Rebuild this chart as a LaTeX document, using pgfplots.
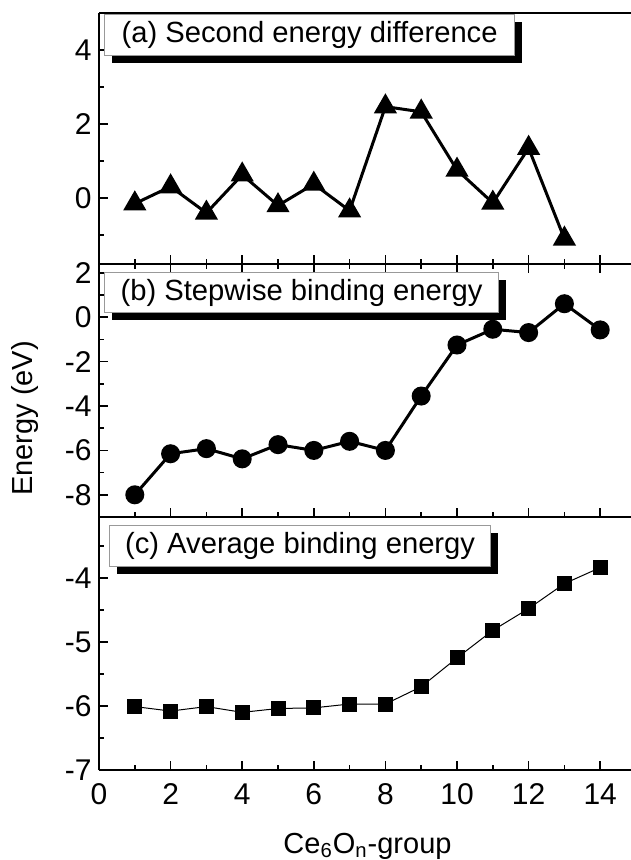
\documentclass[border=0pt]{standalone}
\usepackage{fontspec}
\setmainfont{Liberation Sans}
\usepackage{pgfplots}
\pgfplotsset{compat=1.18}
\usetikzlibrary{shadows}

\pgfplotsset{
  panel/.style={
    scale only axis, width=266bp,
    xmin=0, xmax=14.86,
    xtick={0,2,...,14}, minor xtick={1,3,...,13},
    axis x line=box, axis y line=left,
    x axis line style={-}, y axis line style={-},
    axis line style={line width=0.8bp},
    tick align=inside,
    major tick length=4.5bp, minor tick length=2.3bp,
    every tick/.style={black, line width=0.8bp},
    tick label style={font=\fontsize{15bp}{17bp}\selectfont},
    yticklabel style={inner xsep=3.5bp},
    xticklabel style={yshift=-3.5bp},
    /pgf/number format/assume math mode=true,
    clip=false,
  },
}
\tikzset{
  lbl/.style={draw=gray!80, line width=0.6bp, fill=white, anchor=north west,
    inner sep=0pt, align=center, font=\fontsize{14.6bp}{16bp}\selectfont,
    drop shadow={fill=black, opacity=1, shadow xshift=3.5bp, shadow yshift=-3.5bp}},
}

\begin{document}
\begin{tikzpicture}
\path[use as bounding box] (-49.5bp,-45bp) rectangle (266bp,385bp);

% (a)
\begin{axis}[panel, at={(0,253bp)}, anchor=south west, height=125.5bp,
  ymin=-1.78, ymax=5, ytick={0,2,4}, minor ytick={-1,1,3},
  xticklabels={}, xtick pos=bottom]
\addplot[black, line width=1.5bp, mark=triangle*, mark size=5.2bp,
  mark options={solid, fill=black}] coordinates {
  (1,-0.15) (2,0.31) (3,-0.40) (4,0.63) (5,-0.20) (6,0.38) (7,-0.34)
  (8,2.47) (9,2.33) (10,0.76) (11,-0.13) (12,1.35) (13,-1.10)};
\node[lbl, minimum width=205bp, minimum height=20.5bp, xshift=2.5bp, yshift=-0.5bp]
  at (rel axis cs:0,1) {(a) Second energy difference};
\end{axis}

% (b)
\begin{axis}[panel, at={(0,126.5bp)}, anchor=south west, height=126.5bp,
  ymin=-9, ymax=2.4, ytick={-8,-6,...,2}, minor ytick={-9,-7,...,1},
  xticklabels={}, xtick pos=both]
\addplot[black, line width=1.5bp, mark=*, mark size=4bp,
  mark options={solid, fill=black}] coordinates {
  (1,-8.0) (2,-6.15) (3,-5.92) (4,-6.38) (5,-5.74) (6,-6.0) (7,-5.59)
  (8,-6.0) (9,-3.55) (10,-1.25) (11,-0.54) (12,-0.69) (13,0.61) (14,-0.57)};
\node[lbl, minimum width=197bp, minimum height=20bp, xshift=2.5bp, yshift=-4bp]
  at (rel axis cs:0,1) {(b) Stepwise binding energy};
\node[rotate=90, font=\fontsize{14.5bp}{16bp}\selectfont]
  at ([xshift=-37bp]rel axis cs:0,0.39) {Energy (eV)};
\end{axis}

% (c)
\begin{axis}[panel, at={(0,0)}, anchor=south west, height=126.5bp,
  ymin=-7, ymax=-3.05, ytick={-7,-6,-5,-4}, minor ytick={-6.5,-5.5,-4.5,-3.5},
  xtick pos=bottom]
\addplot[black, line width=0.5bp, mark=square*, mark size=3.5bp,
  mark options={solid, fill=black}] coordinates {
  (1,-6.01) (2,-6.08) (3,-6.01) (4,-6.10) (5,-6.04) (6,-6.03) (7,-5.97)
  (8,-5.97) (9,-5.70) (10,-5.25) (11,-4.82) (12,-4.48) (13,-4.09) (14,-3.84)};
\node[lbl, minimum width=190.5bp, minimum height=20.5bp, xshift=5bp, yshift=-4bp]
  at (rel axis cs:0,1) {(c) Average binding energy};
\node[anchor=base, font=\fontsize{14.5bp}{16bp}\selectfont]
  at ([yshift=-41.5bp]axis cs:7.5,-7) {Ce\textsubscript{6}O\textsubscript{n}-group};
\end{axis}
\end{tikzpicture}
\end{document}
